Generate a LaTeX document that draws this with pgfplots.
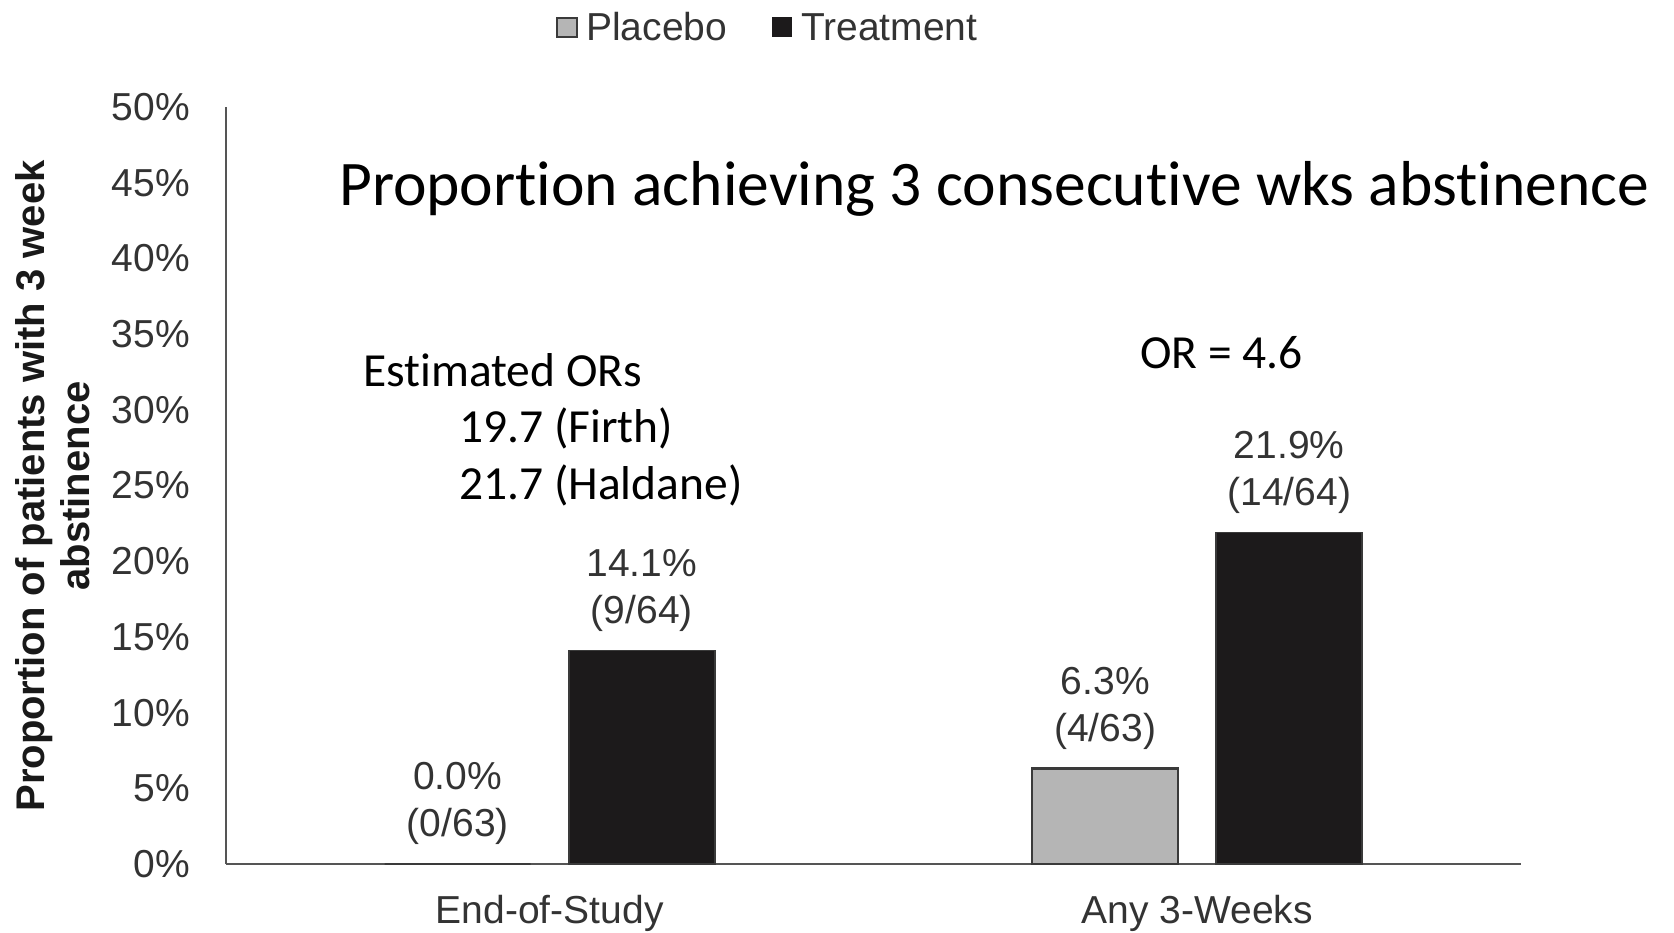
\documentclass[border=0pt]{standalone}
\usepackage{pgfplots}
\pgfplotsset{compat=1.18}
\usepackage{fontspec}
\setmainfont{Liberation Sans}
\newfontfamily\calibri[RawFeature={-liga;-clig;-calt;-dlig}]{Carlito}
\definecolor{placebo}{HTML}{B5B5B5}
\definecolor{treat}{HTML}{1C1A1B}
\definecolor{edge}{HTML}{3A3A3A}
\definecolor{axisgray}{HTML}{555555}
\definecolor{txt}{HTML}{333333}
\newcommand\lf{\fontsize{39}{47}\selectfont}
\begin{document}
\begin{tikzpicture}[x=1pt,y=1pt]
\useasboundingbox (0,0) rectangle (1674,933);
\begin{axis}[
 at={(226pt,69pt)}, anchor=south west,
 scale only axis, width=1295pt, height=757pt,
 xmin=-0.5, xmax=1.5, ymin=0, ymax=50,
 axis lines=left, axis line style={-, draw=axisgray, line width=2.5pt},
 xtick={0,1}, xticklabels={End-of-Study, Any 3-Weeks},
 ytick={0,5,...,50},
 yticklabel={\pgfmathprintnumber{\tick}\%},
 /pgf/number format/assume math mode=true,
 major tick length=0pt,
 tick label style={font=\lf, text=txt, inner sep=0pt},
 yticklabel style={anchor=east, xshift=-36pt},
 xticklabel style={anchor=north, yshift=-31pt},
 ybar, bar width=146pt,
 nodes near coords, point meta=explicit symbolic,
 every node near coord/.append style={font=\lf, text=txt, align=center, inner sep=0pt, anchor=south, yshift=18pt},
 clip=false,
]
\addplot[fill=placebo, draw=edge, line width=2.5pt, bar shift=-92pt] coordinates {(0,0) [{0.0\%\\(0/63)}] (1,6.3) [{6.3\%\\(4/63)}]};
\addplot[fill=treat, draw=edge, line width=1.5pt, bar shift=92pt] coordinates {(0,14.1) [{14.1\%\\(9/64)}] (1,21.9) [{21.9\%\\(14/64)}]};
\end{axis}
% y label
\node[rotate=90, align=center, font=\bfseries\fontsize{40}{45}\selectfont, text=black!90] at (53,447) {Proportion of patients with 3 week\\abstinence};
% legend
\draw[fill=placebo, draw=edge, line width=2.5pt] (557,896) rectangle (577,915);
\node[anchor=base west, font=\lf, text=txt, inner sep=0pt] at (586,892.5) {Placebo};
\draw[fill=treat, draw=treat, line width=1pt] (772,896) rectangle (791,915);
\node[anchor=base west, font=\lf, text=txt, inner sep=0pt] at (801,892.5) {Treatment};
% annotations
\node[anchor=base west, font=\calibri\fontsize{63.5}{70}\selectfont, inner sep=0pt] at (339,727) {Proportion achieving 3 consecutive wks abstinence};
\node[anchor=base west, font=\calibri\fontsize{47.5}{57}\selectfont, inner sep=0pt] at (363,546.5) {Estimated ORs};
\node[anchor=base west, font=\calibri\fontsize{47.5}{57}\selectfont, inner sep=0pt] at (459,490) {19.7 (Firth)};
\node[anchor=base west, font=\calibri\fontsize{47.5}{57}\selectfont, inner sep=0pt] at (459,433) {21.7 (Haldane)};
\node[anchor=base west, font=\calibri\fontsize{47.5}{57}\selectfont, inner sep=0pt] at (1140,564) {OR = 4.6};
\end{tikzpicture}
\end{document}
